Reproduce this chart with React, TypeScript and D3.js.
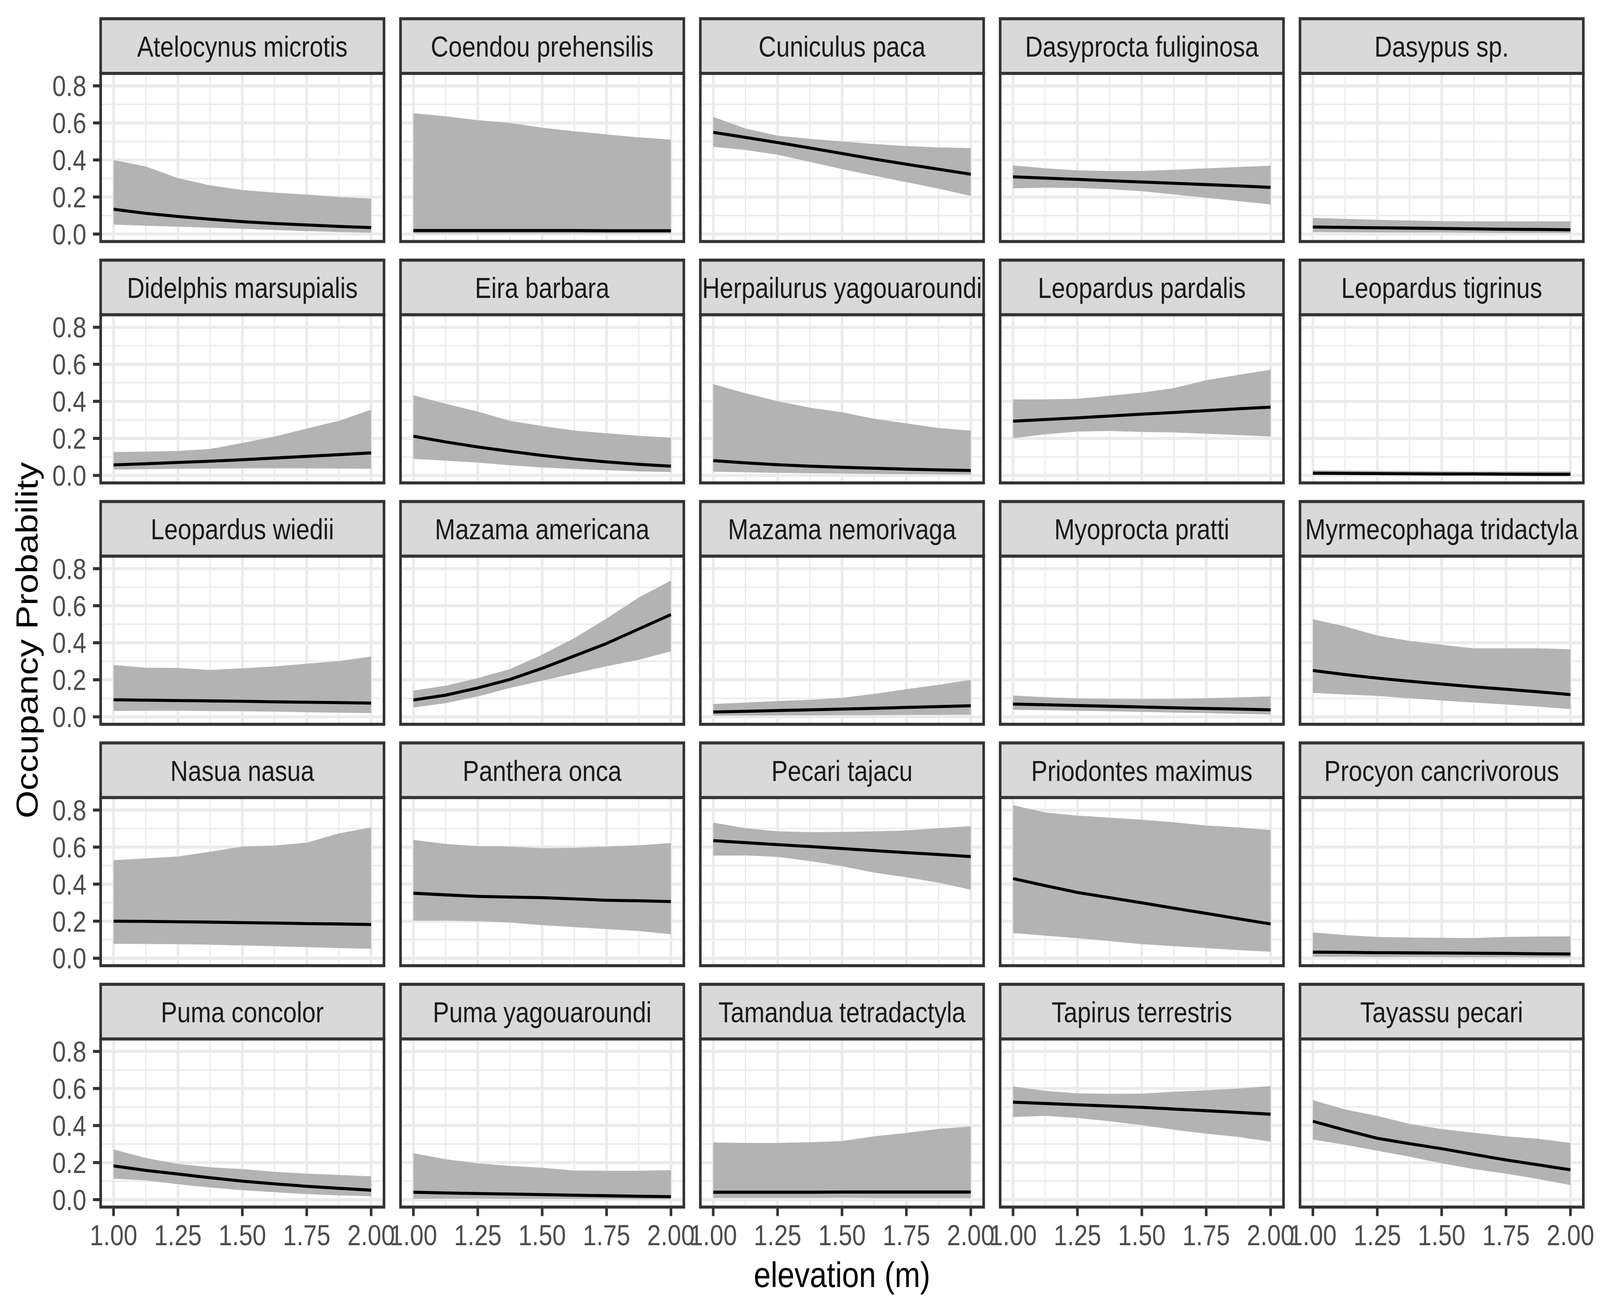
import React, { useEffect } from "react";
import * as d3 from "d3";

// ---------------- data ----------------
const species = [
  "Atelocynus microtis", "Coendou prehensilis", "Cuniculus paca", "Dasyprocta fuliginosa", "Dasypus sp.",
  "Didelphis marsupialis", "Eira barbara", "Herpailurus yagouaroundi", "Leopardus pardalis", "Leopardus tigrinus",
  "Leopardus wiedii", "Mazama americana", "Mazama nemorivaga", "Myoprocta pratti", "Myrmecophaga tridactyla",
  "Nasua nasua", "Panthera onca", "Pecari tajacu", "Priodontes maximus", "Procyon cancrivorous",
  "Puma concolor", "Puma yagouaroundi", "Tamandua tetradactyla", "Tapirus terrestris", "Tayassu pecari",
];

const elevation = [1.0, 1.125, 1.25, 1.375, 1.5, 1.625, 1.75, 1.875, 2.0];

const occMean = [
  [0.134, 0.112, 0.095, 0.08, 0.067, 0.057, 0.049, 0.041, 0.035],
  [0.019, 0.019, 0.019, 0.019, 0.019, 0.019, 0.018, 0.018, 0.018],
  [0.549, 0.522, 0.494, 0.465, 0.435, 0.405, 0.377, 0.35, 0.323],
  [0.309, 0.302, 0.295, 0.288, 0.281, 0.274, 0.267, 0.26, 0.252],
  [0.038, 0.036, 0.034, 0.032, 0.03, 0.028, 0.026, 0.025, 0.023],
  [0.057, 0.063, 0.07, 0.077, 0.085, 0.094, 0.103, 0.112, 0.122],
  [0.212, 0.181, 0.154, 0.13, 0.108, 0.089, 0.073, 0.06, 0.05],
  [0.08, 0.068, 0.058, 0.05, 0.044, 0.039, 0.034, 0.03, 0.027],
  [0.293, 0.302, 0.311, 0.321, 0.331, 0.34, 0.35, 0.36, 0.369],
  [0.012, 0.011, 0.01, 0.009, 0.008, 0.008, 0.007, 0.006, 0.006],
  [0.092, 0.09, 0.088, 0.086, 0.084, 0.081, 0.079, 0.077, 0.074],
  [0.091, 0.117, 0.156, 0.202, 0.262, 0.329, 0.396, 0.474, 0.552],
  [0.026, 0.03, 0.034, 0.038, 0.042, 0.046, 0.051, 0.055, 0.06],
  [0.069, 0.065, 0.061, 0.057, 0.053, 0.049, 0.045, 0.042, 0.038],
  [0.25, 0.228, 0.209, 0.192, 0.177, 0.162, 0.149, 0.135, 0.12],
  [0.2, 0.199, 0.197, 0.195, 0.192, 0.19, 0.187, 0.185, 0.182],
  [0.351, 0.342, 0.334, 0.33, 0.327, 0.32, 0.313, 0.31, 0.306],
  [0.635, 0.624, 0.613, 0.603, 0.592, 0.581, 0.57, 0.56, 0.549],
  [0.43, 0.392, 0.355, 0.327, 0.299, 0.27, 0.242, 0.213, 0.185],
  [0.033, 0.032, 0.03, 0.029, 0.028, 0.027, 0.026, 0.024, 0.023],
  [0.182, 0.158, 0.138, 0.118, 0.1, 0.085, 0.072, 0.061, 0.051],
  [0.04, 0.036, 0.033, 0.03, 0.027, 0.024, 0.021, 0.018, 0.016],
  [0.04, 0.04, 0.04, 0.04, 0.041, 0.041, 0.041, 0.041, 0.041],
  [0.526, 0.519, 0.512, 0.505, 0.498, 0.489, 0.48, 0.471, 0.461],
  [0.423, 0.375, 0.331, 0.302, 0.275, 0.244, 0.214, 0.188, 0.161],
];

const occLower = [
  [0.051, 0.045, 0.04, 0.034, 0.028, 0.022, 0.016, 0.011, 0.007],
  [0.003, 0.003, 0.003, 0.003, 0.003, 0.003, 0.003, 0.003, 0.003],
  [0.471, 0.454, 0.428, 0.39, 0.351, 0.315, 0.28, 0.245, 0.206],
  [0.247, 0.25, 0.249, 0.242, 0.231, 0.214, 0.196, 0.178, 0.16],
  [0.011, 0.01, 0.009, 0.008, 0.008, 0.007, 0.006, 0.006, 0.005],
  [0.032, 0.034, 0.036, 0.037, 0.038, 0.038, 0.038, 0.037, 0.036],
  [0.09, 0.08, 0.069, 0.055, 0.043, 0.035, 0.028, 0.022, 0.018],
  [0.02, 0.017, 0.014, 0.012, 0.01, 0.008, 0.007, 0.006, 0.005],
  [0.201, 0.222, 0.237, 0.24, 0.235, 0.232, 0.225, 0.218, 0.21],
  [0.002, 0.002, 0.002, 0.001, 0.001, 0.001, 0.001, 0.001, 0.001],
  [0.032, 0.033, 0.033, 0.031, 0.03, 0.028, 0.025, 0.022, 0.02],
  [0.05, 0.074, 0.11, 0.156, 0.195, 0.234, 0.273, 0.308, 0.354],
  [0.007, 0.007, 0.008, 0.008, 0.009, 0.009, 0.01, 0.01, 0.011],
  [0.038, 0.036, 0.033, 0.03, 0.027, 0.023, 0.02, 0.016, 0.013],
  [0.129, 0.121, 0.113, 0.1, 0.088, 0.077, 0.067, 0.055, 0.042],
  [0.078, 0.077, 0.076, 0.073, 0.069, 0.065, 0.06, 0.055, 0.051],
  [0.203, 0.203, 0.2, 0.193, 0.178, 0.168, 0.157, 0.147, 0.129],
  [0.554, 0.555, 0.547, 0.525, 0.497, 0.462, 0.437, 0.408, 0.37],
  [0.136, 0.122, 0.108, 0.093, 0.076, 0.065, 0.055, 0.044, 0.035],
  [0.008, 0.008, 0.007, 0.007, 0.006, 0.006, 0.006, 0.005, 0.005],
  [0.113, 0.104, 0.083, 0.065, 0.051, 0.04, 0.03, 0.023, 0.018],
  [0.005, 0.005, 0.005, 0.004, 0.004, 0.004, 0.003, 0.002, 0.002],
  [0.009, 0.009, 0.009, 0.009, 0.01, 0.008, 0.008, 0.008, 0.008],
  [0.446, 0.452, 0.441, 0.423, 0.402, 0.377, 0.356, 0.338, 0.313],
  [0.324, 0.296, 0.264, 0.232, 0.196, 0.165, 0.14, 0.111, 0.079],
];

const occUpper = [
  [0.4, 0.365, 0.302, 0.263, 0.238, 0.224, 0.213, 0.2, 0.191],
  [0.652, 0.636, 0.615, 0.6, 0.574, 0.555, 0.538, 0.522, 0.51],
  [0.632, 0.57, 0.531, 0.514, 0.5, 0.486, 0.475, 0.468, 0.464],
  [0.371, 0.355, 0.344, 0.34, 0.341, 0.347, 0.355, 0.362, 0.369],
  [0.088, 0.082, 0.077, 0.073, 0.07, 0.069, 0.069, 0.069, 0.069],
  [0.126, 0.129, 0.132, 0.143, 0.175, 0.21, 0.253, 0.295, 0.355],
  [0.433, 0.387, 0.345, 0.295, 0.267, 0.242, 0.228, 0.214, 0.203],
  [0.493, 0.444, 0.401, 0.366, 0.341, 0.306, 0.281, 0.256, 0.242],
  [0.41, 0.411, 0.414, 0.43, 0.447, 0.472, 0.514, 0.543, 0.571],
  [0.028, 0.026, 0.025, 0.024, 0.023, 0.022, 0.022, 0.022, 0.022],
  [0.28, 0.265, 0.264, 0.253, 0.262, 0.272, 0.287, 0.301, 0.326],
  [0.142, 0.168, 0.209, 0.258, 0.336, 0.425, 0.531, 0.644, 0.736],
  [0.069, 0.077, 0.085, 0.092, 0.103, 0.124, 0.149, 0.173, 0.2],
  [0.115, 0.106, 0.099, 0.097, 0.096, 0.097, 0.1, 0.105, 0.11],
  [0.527, 0.488, 0.439, 0.41, 0.389, 0.37, 0.37, 0.37, 0.365],
  [0.529, 0.539, 0.549, 0.575, 0.603, 0.608, 0.624, 0.674, 0.706],
  [0.639, 0.617, 0.605, 0.603, 0.594, 0.596, 0.603, 0.61, 0.622],
  [0.732, 0.702, 0.685, 0.681, 0.682, 0.685, 0.69, 0.702, 0.713],
  [0.826, 0.787, 0.77, 0.759, 0.748, 0.734, 0.716, 0.706, 0.692],
  [0.139, 0.125, 0.115, 0.112, 0.11, 0.109, 0.115, 0.117, 0.118],
  [0.271, 0.225, 0.193, 0.175, 0.165, 0.15, 0.14, 0.133, 0.126],
  [0.25, 0.218, 0.196, 0.182, 0.172, 0.157, 0.156, 0.156, 0.159],
  [0.308, 0.306, 0.306, 0.31, 0.316, 0.342, 0.36, 0.382, 0.395],
  [0.611, 0.587, 0.574, 0.571, 0.572, 0.583, 0.59, 0.6, 0.613],
  [0.537, 0.487, 0.452, 0.409, 0.381, 0.361, 0.342, 0.328, 0.306],
];

const xBreaks = [1.0, 1.25, 1.5, 1.75, 2.0];
const xMinorBreaks = [1.125, 1.375, 1.625, 1.875];
const xTickLabels = ["1.00", "1.25", "1.50", "1.75", "2.00"];
const yBreaks = [0, 0.2, 0.4, 0.6, 0.8];
const yMinorBreaks = [0.1, 0.3, 0.5, 0.7];
const yTickLabels = ["0.0", "0.2", "0.4", "0.6", "0.8"];
const xTitle = "elevation (m)";
const yTitle = "Occupancy Probability";

// ---------------- layout ----------------
const W = 4800;
const H = 3360;
const NCOL = 5;
const NROW = 5;
const PANEL_LEFT0 = 302;
const COL_PITCH = 899.5;
const PANEL_W = 850;
const STRIP_TOP0 = 48;
const ROW_PITCH = 618.2;
const STRIP_H = 140;
const PANEL_H = 430.5;
const LW = 7.8;
const TICK_LEN = 23;
const FONT = "'Liberation Sans', Arial, 'Helvetica', sans-serif";
const AXIS_FS = 73.3;
const TITLE_FS = 91.7;

export default function App() {
  useEffect(() => {
    document.body.style.margin = "0";
    document.body.style.overflow = "hidden";
  }, []);

  // expanded scales (5% expansion as in ggplot)
  const xExt = d3.extent(elevation) as [number, number];
  const xPad = (xExt[1] - xExt[0]) * 0.05;
  const x = d3.scaleLinear().domain([xExt[0] - xPad, xExt[1] + xPad]).range([0, PANEL_W]);

  const allVals = occLower.flat().concat(occUpper.flat(), occMean.flat());
  const yExt = d3.extent(allVals) as [number, number];
  const yPad = (yExt[1] - yExt[0]) * 0.05;
  const y = d3.scaleLinear().domain([yExt[0] - yPad, yExt[1] + yPad]).range([PANEL_H, 0]);

  const line = d3
    .line<number>()
    .x((_, i) => x(elevation[i]))
    .y((d) => y(d));

  const panels = species.map((name, k) => {
    const c = k % NCOL;
    const r = Math.floor(k / NCOL);
    const px = PANEL_LEFT0 + c * COL_PITCH;
    const sy = STRIP_TOP0 + r * ROW_PITCH;
    const py = sy + STRIP_H;
    const lo = occLower[k];
    const up = occUpper[k];
    const ribbon = d3
      .area<number>()
      .x((_, i) => x(elevation[i]))
      .y0((_, i) => y(lo[i]))
      .y1((_, i) => y(up[i]))(lo);
    return (
      <g key={name}>
        <rect x={px} y={sy} width={PANEL_W} height={STRIP_H} fill="#D9D9D9" stroke="#333333" strokeWidth={LW} />
        <text
          x={px + PANEL_W / 2}
          y={sy + 97}
          textAnchor="middle"
          fontFamily={FONT}
          fontSize={AXIS_FS}
          fill="#1A1A1A"
        >
          {name}
        </text>
        <g transform={`translate(${px},${py})`}>
          <rect x={0} y={0} width={PANEL_W} height={PANEL_H} fill="#FFFFFF" />
          {xMinorBreaks.map((b) => (
            <line key={"xm" + b} x1={x(b)} x2={x(b)} y1={0} y2={PANEL_H} stroke="#EBEBEB" strokeWidth={LW / 2} />
          ))}
          {yMinorBreaks.map((b) => (
            <line key={"ym" + b} x1={0} x2={PANEL_W} y1={y(b)} y2={y(b)} stroke="#EBEBEB" strokeWidth={LW / 2} />
          ))}
          {xBreaks.map((b) => (
            <line key={"xM" + b} x1={x(b)} x2={x(b)} y1={0} y2={PANEL_H} stroke="#EBEBEB" strokeWidth={LW} />
          ))}
          {yBreaks.map((b) => (
            <line key={"yM" + b} x1={0} x2={PANEL_W} y1={y(b)} y2={y(b)} stroke="#EBEBEB" strokeWidth={LW} />
          ))}
          <path d={ribbon || ""} fill="#B3B3B3" stroke="none" />
          <path d={line(occMean[k]) || ""} fill="none" stroke="#000000" strokeWidth={LW} strokeLinejoin="round" />
          <rect x={0} y={0} width={PANEL_W} height={PANEL_H} fill="none" stroke="#333333" strokeWidth={LW} />
          {c === 0 &&
            yBreaks.map((b, i) => (
              <g key={"yt" + b}>
                <line x1={-TICK_LEN} x2={0} y1={y(b)} y2={y(b)} stroke="#333333" strokeWidth={LW} />
                <text
                  x={-TICK_LEN - 20}
                  y={y(b)}
                  dy="0.36em"
                  textAnchor="end"
                  fontFamily={FONT}
                  fontSize={AXIS_FS}
                  fill="#4D4D4D"
                >
                  {yTickLabels[i]}
                </text>
              </g>
            ))}
          {r === NROW - 1 &&
            xBreaks.map((b, i) => (
              <g key={"xt" + b}>
                <line x1={x(b)} x2={x(b)} y1={PANEL_H} y2={PANEL_H + TICK_LEN} stroke="#333333" strokeWidth={LW} />
                <text
                  x={x(b)}
                  y={PANEL_H + 98}
                  textAnchor="middle"
                  fontFamily={FONT}
                  fontSize={AXIS_FS}
                  fill="#4D4D4D"
                >
                  {xTickLabels[i]}
                </text>
              </g>
            ))}
        </g>
      </g>
    );
  });

  const plotsLeft = PANEL_LEFT0;
  const plotsRight = PANEL_LEFT0 + (NCOL - 1) * COL_PITCH + PANEL_W;
  const plotsTop = STRIP_TOP0 + STRIP_H;
  const plotsBottom = STRIP_TOP0 + (NROW - 1) * ROW_PITCH + STRIP_H + PANEL_H;

  return (
    <svg
      viewBox={`0 0 ${W} ${H}`}
      preserveAspectRatio="none"
      style={{ position: "fixed", left: 0, top: 0, width: "100vw", height: "100vh", display: "block", background: "#FFFFFF" }}
    >
      <rect x={0} y={0} width={W} height={H} fill="#FFFFFF" />
      {panels}
      <text
        x={(plotsLeft + plotsRight) / 2}
        y={plotsBottom + 205}
        textAnchor="middle"
        fontFamily={FONT}
        fontSize={TITLE_FS}
        fill="#000000"
      >
        {xTitle}
      </text>
      <text
        transform={`translate(113,${(plotsTop + plotsBottom) / 2}) rotate(-90)`}
        textAnchor="middle"
        fontFamily={FONT}
        fontSize={TITLE_FS}
        fill="#000000"
      >
        {yTitle}
      </text>
    </svg>
  );
}
